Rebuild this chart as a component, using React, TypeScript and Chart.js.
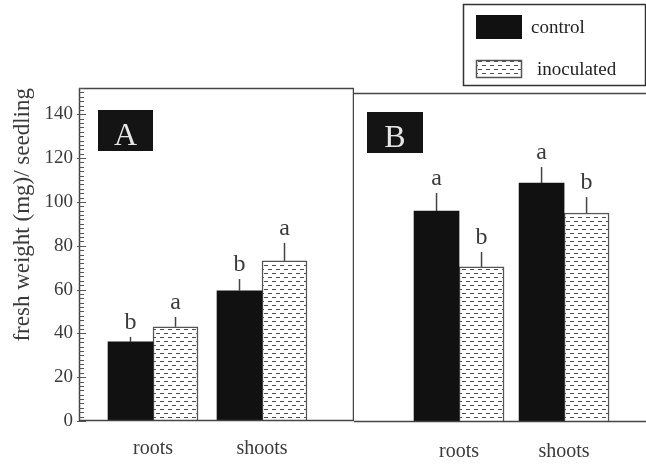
import React, { useEffect, useRef } from 'react';
import { Chart, registerables } from 'chart.js';

Chart.register(...registerables);

// ---------- data ----------
const categories = ['roots', 'shoots'];
const seriesNames = ['control', 'inoculated'];
const panelNames = ['A', 'B'];

const controlA = [36.1, 59.4];
const inoculatedA = [43.0, 73.1];
const controlAErr = [2.3, 5.4];
const inoculatedAErr = [4.5, 8.2];
const controlALetters = ['b', 'b'];
const inoculatedALetters = ['a', 'a'];

const controlB = [96.3, 109.1];
const inoculatedB = [70.8, 95.4];
const controlBErr = [8.3, 7.3];
const inoculatedBErr = [6.8, 7.3];
const controlBLetters = ['a', 'a'];
const inoculatedBLetters = ['b', 'b'];

const yTickValues = [0, 20, 40, 60, 80, 100, 120, 140];
const yMinorStep = 2;
const yTitle = 'fresh weight (mg)/ seedling';

// ---------- styles ----------
const FONT = '"Liberation Serif", "Times New Roman", serif';
const INK = '#3a3a3a';
const LINE = '#444';
const BLACK = '#111';

function makePattern(): CanvasPattern | string {
  const c = document.createElement('canvas');
  c.width = 8;
  c.height = 8;
  const g = c.getContext('2d');
  if (!g) return '#ddd';
  g.fillStyle = '#fff';
  g.fillRect(0, 0, 8, 8);
  g.fillStyle = '#4d4d4d';
  g.fillRect(0, 1, 4, 1);
  g.fillRect(4, 5, 4, 1);
  return g.createPattern(c, 'repeat') || '#ddd';
}

const errorLetters = {
  id: 'errorLetters',
  afterDatasetsDraw(chart: any) {
    const ctx = chart.ctx;
    const ys = chart.scales.y;
    chart.data.datasets.forEach((ds: any, di: number) => {
      const meta = chart.getDatasetMeta(di);
      meta.data.forEach((bar: any, i: number) => {
        const v = ds.data[i].y;
        const top = ys.getPixelForValue(v + ds.errors[i]);
        ctx.save();
        ctx.strokeStyle = LINE;
        ctx.lineWidth = 1.5;
        ctx.beginPath();
        ctx.moveTo(bar.x, bar.y);
        ctx.lineTo(bar.x, top);
        ctx.stroke();
        ctx.fillStyle = INK;
        ctx.font = `24px ${FONT}`;
        ctx.textAlign = 'center';
        ctx.textBaseline = 'alphabetic';
        ctx.fillText(ds.letters[i], bar.x, top - 8);
        ctx.restore();
      });
    });
  },
};

function panelDecor(opts: {
  name: string;
  box: [number, number, number, number];
  sides: { left: boolean; right: boolean };
  minorTicks: boolean;
  legend: null | { x: number; y: number; w: number; h: number };
}) {
  return {
    id: 'panelDecor' + opts.name,
    afterDraw(chart: any) {
      const ctx = chart.ctx;
      const a = chart.chartArea;
      ctx.save();
      // frame
      ctx.strokeStyle = LINE;
      ctx.lineWidth = 1.5;
      ctx.beginPath();
      ctx.moveTo(a.left, a.top + 0.5);
      ctx.lineTo(a.right, a.top + 0.5);
      ctx.moveTo(a.left, a.bottom - 0.5);
      ctx.lineTo(a.right, a.bottom - 0.5);
      if (opts.sides.left) {
        ctx.moveTo(a.left + 0.5, a.top);
        ctx.lineTo(a.left + 0.5, a.bottom);
      }
      if (opts.sides.right) {
        ctx.moveTo(a.right - 0.5, a.top);
        ctx.lineTo(a.right - 0.5, a.bottom);
      }
      ctx.stroke();
      // minor ticks
      if (opts.minorTicks) {
        const ys = chart.scales.y;
        ctx.lineWidth = 1;
        ctx.strokeStyle = '#555';
        ctx.beginPath();
        for (let v = 0; v <= ys.max; v += yMinorStep) {
          const py = Math.round(ys.getPixelForValue(v)) + 0.5;
          const major = v % 20 === 0;
          ctx.moveTo(a.left - (major ? 2 : 0), py);
          ctx.lineTo(a.left + (major ? 7 : 5), py);
        }
        ctx.stroke();
      }
      // panel label
      const [bx, by, bw, bh] = opts.box;
      ctx.fillStyle = '#141414';
      ctx.fillRect(a.left + bx, a.top + by, bw, bh);
      ctx.fillStyle = '#e6e6e6';
      ctx.font = `32px ${FONT}`;
      ctx.textAlign = 'center';
      ctx.textBaseline = 'alphabetic';
      ctx.fillText(opts.name, a.left + bx + bw / 2, a.top + by + bh - 6);
      // legend
      if (opts.legend) {
        const L = opts.legend;
        ctx.strokeStyle = '#333';
        ctx.lineWidth = 1.5;
        ctx.strokeRect(L.x + 0.5, L.y + 0.5, L.w, L.h);
        const ds = chart.data.datasets;
        const rows = [L.y + 11, L.y + 56];
        const sh = [24, 18];
        ds.forEach((d: any, i: number) => {
          ctx.fillStyle = d.backgroundColor;
          ctx.fillRect(L.x + 13, rows[i], 46, sh[i]);
          if (d.borderWidth) {
            ctx.strokeStyle = '#555';
            ctx.lineWidth = 1.5;
            ctx.strokeRect(L.x + 13.5, rows[i] + 0.5, 45, sh[i] - 1);
          }
          ctx.fillStyle = '#222';
          ctx.font = `19px ${FONT}`;
          ctx.textAlign = 'left';
          ctx.textBaseline = 'middle';
          ctx.fillText(d.label, L.x + (i === 0 ? 68 : 74), rows[i] + sh[i] / 2 + 1);
        });
      }
      ctx.restore();
    },
  };
}

function buildDatasets(ctrl: number[], inoc: number[], ce: number[], ie: number[], cl: string[], il: string[], pattern: any) {
  return [
    {
      label: seriesNames[0],
      data: categories.map((_, i) => ({ x: i + 1, y: ctrl[i] })),
      backgroundColor: BLACK,
      borderWidth: 0,
      errors: ce,
      letters: cl,
    },
    {
      label: seriesNames[1],
      data: categories.map((_, i) => ({ x: i + 1, y: inoc[i] })),
      backgroundColor: pattern,
      borderColor: '#555',
      borderWidth: 1.5,
      errors: ie,
      letters: il,
    },
  ];
}

function xScale(min: number, max: number, height: number, pad: number) {
  return {
    type: 'linear' as const,
    min,
    max,
    offset: false,
    grid: { display: false, offset: false, drawTicks: false },
    border: { display: false },
    afterBuildTicks: (s: any) => {
      s.ticks = categories.map((_, i) => ({ value: i + 1 }));
    },
    afterFit: (s: any) => {
      s.height = height;
    },
    ticks: {
      autoSkip: false,
      maxRotation: 0,
      font: { family: FONT, size: 20 },
      color: INK,
      padding: pad,
      callback: (v: any) => categories[Math.round(Number(v)) - 1] ?? '',
    },
  };
}

export default function App() {
  const refA = useRef<HTMLCanvasElement>(null);
  const refB = useRef<HTMLCanvasElement>(null);

  useEffect(() => {
    const pattern = makePattern();
    const chartA = new Chart(refA.current as HTMLCanvasElement, {
      type: 'bar',
      data: {
        datasets: buildDatasets(controlA, inoculatedA, controlAErr, inoculatedAErr, controlALetters, inoculatedALetters, pattern) as any,
      },
      options: {
        responsive: false,
        animation: false,
        layout: { padding: { top: 88, left: 0, right: 0, bottom: 0 } },
        plugins: { legend: { display: false }, tooltip: { enabled: false } },
        datasets: { bar: { barThickness: 45, grouped: true } } as any,
        scales: {
          x: xScale(0.321, 2.844, 43, 16) as any,
          y: {
            min: 0,
            max: 152,
            grid: { display: false, drawTicks: false },
            border: { display: false },
            afterFit: (s: any) => {
              s.width = 79;
            },
            afterBuildTicks: (s: any) => {
              s.ticks = yTickValues.map((v) => ({ value: v }));
            },
            ticks: { font: { family: FONT, size: 19 }, color: INK, padding: 6 },
            title: {
              display: true,
              text: yTitle,
              align: 'end',
              font: { family: FONT, size: 23 },
              color: INK,
              padding: { top: 9, bottom: 0 },
            },
          } as any,
        },
      },
      plugins: [
        errorLetters,
        panelDecor({ name: panelNames[0], box: [19, 22, 55, 41], sides: { left: true, right: true }, minorTicks: true, legend: null }),
      ],
    });

    const chartB = new Chart(refB.current as HTMLCanvasElement, {
      type: 'bar',
      data: {
        datasets: buildDatasets(controlB, inoculatedB, controlBErr, inoculatedBErr, controlBLetters, inoculatedBLetters, pattern) as any,
      },
      options: {
        responsive: false,
        animation: false,
        layout: { padding: { top: 93, left: 0, right: 0, bottom: 0 } },
        plugins: { legend: { display: false }, tooltip: { enabled: false } },
        datasets: { bar: { barThickness: 45, grouped: true } } as any,
        scales: {
          x: xScale(0, 2.78, 42, 18) as any,
          y: { display: false, min: 0, max: 150.2 } as any,
        },
      },
      plugins: [
        errorLetters,
        panelDecor({
          name: panelNames[1],
          box: [13, 19, 56, 41],
          sides: { left: false, right: false },
          minorTicks: false,
          legend: { x: 109, y: 4, w: 182, h: 81 },
        }),
      ],
    });

    return () => {
      chartA.destroy();
      chartB.destroy();
    };
  }, []);

  return (
    <div style={{ position: 'absolute', left: 0, top: 0, width: 646, height: 464, background: '#fff' }}>
      <canvas ref={refA} width={354} height={464} style={{ position: 'absolute', left: 0, top: 0 }} />
      <canvas ref={refB} width={292} height={464} style={{ position: 'absolute', left: 354, top: 0 }} />
    </div>
  );
}
